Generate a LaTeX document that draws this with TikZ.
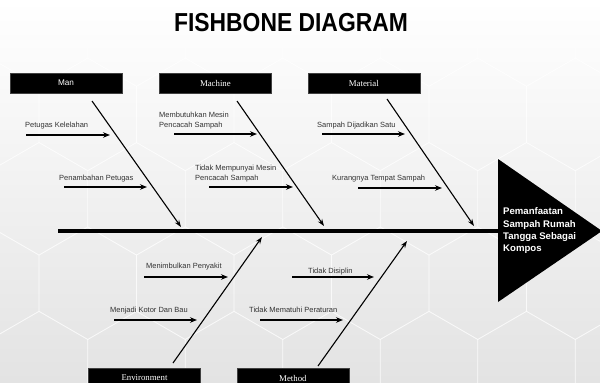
\documentclass[tikz,border=0pt]{standalone}
\usepackage{fontspec}
\setmainfont{Liberation Serif}
\setsansfont{Liberation Sans}
\newfontfamily\titlefont[FakeStretch=0.88]{Liberation Sans}
\usetikzlibrary{arrows.meta, positioning}

\begin{document}
\begin{tikzpicture}[
  x=1pt, y=-1pt,
  category/.style={fill=black, draw=black!75, text=white, minimum width=112pt, minimum height=20pt, inner sep=0pt, font=\fontsize{8.8}{10}\selectfont},
  cause/.style={anchor=north west, inner sep=0pt, align=left, text=black!80, font=\sffamily\fontsize{7.5}{10}\selectfont},
  bone/.style={line width=1.1pt, -{Stealth[length=7pt, width=5pt]}},
  causearrow/.style={line width=1.4pt, -{Stealth[length=7pt, width=5.5pt]}},
  hexline/.style={white, line width=0.8pt, opacity=0.5}
]
\useasboundingbox (0,0) rectangle (600,383);

% Background with hexagon pattern
\shade[top color=white, bottom color=black!11] (0,0) rectangle (600,383);
\begin{scope}
  \clip (0,45) rectangle (600,383);
  \foreach \j in {0,...,5}{
    \foreach \i in {-1,...,6}{
      \pgfmathsetmacro\cx{\i*97.5+mod(\j,2)*48.75+39}
      \pgfmathsetmacro\cy{\j*84.4+30}
      \draw[hexline] (\cx,\cy) +(30:56.3) -- +(90:56.3) -- +(150:56.3) -- +(210:56.3) -- +(270:56.3) -- +(330:56.3) -- cycle;
    }
  }
\end{scope}

% Title
\node[font=\titlefont\bfseries\fontsize{26}{28}\selectfont, inner sep=0pt] (title) at (291,22.5) {FISHBONE DIAGRAM};

% Spine and head
\coordinate (tail) at (58,231);
\coordinate (spineend) at (500,231);
\coordinate (headtop) at (498,159);
\coordinate (headbot) at (498,302);
\coordinate (headtip) at (602,231);
\draw[line width=3.5pt] (tail) -- (spineend);
\fill[black] (headtop) -- (headtip) -- (headbot) -- cycle;
\node[anchor=north west, inner sep=0pt, align=left, text=white, font=\sffamily\bfseries\fontsize{9.6}{12.4}\selectfont] (effect) at (503,207.5) {Pemanfaatan\\Sampah Rumah\\Tangga Sebagai\\Kompos};

% Category boxes
\node[category, font=\sffamily\fontsize{8.2}{10}\selectfont] (man) at (66,83) {Man};
\node[category, right=37pt of man] (machine) {Machine};
\node[category, right=36pt of machine] (material) {Material};
\node[category] (environment) at (144.5,378) {Environment};
\node[category, right=36pt of environment] (method) {Method};

% Bones
\coordinate (manbone) at (92,101);
\coordinate (manhit) at (181,227);
\coordinate (machinebone) at (237,101);
\coordinate (machinehit) at (324,226);
\coordinate (materialbone) at (387,99);
\coordinate (materialhit) at (474,226);
\coordinate (envbone) at (173,363);
\coordinate (envhit) at (262,237);
\coordinate (methodbone) at (318,366);
\coordinate (methodhit) at (407,241);
\draw[bone] (manbone) -- (manhit);
\draw[bone] (machinebone) -- (machinehit);
\draw[bone] (materialbone) -- (materialhit);
\draw[bone] (envbone) -- (envhit);
\draw[bone] (methodbone) -- (methodhit);

% Causes: Man
\node[cause] (kelelahan) at (25,121.5) {Petugas Kelelahan};
\node[cause] (penambahan) at (59,174.5) {Penambahan Petugas};
\coordinate (kelelahan-s) at (26,135);
\coordinate (kelelahan-e) at (110,135);
\coordinate (penambahan-s) at (64,187);
\coordinate (penambahan-e) at (147,187);
\draw[causearrow] (kelelahan-s) -- (kelelahan-e);
\draw[causearrow] (penambahan-s) -- (penambahan-e);

% Causes: Machine
\node[cause] (butuhmesin) at (159,111.5) {Membutuhkan Mesin\\Pencacah Sampah};
\node[cause] (tanpamesin) at (195,164.5) {Tidak Mempunyai Mesin\\Pencacah Sampah};
\coordinate (butuhmesin-s) at (174,134);
\coordinate (butuhmesin-e) at (257,134);
\coordinate (tanpamesin-s) at (209,187);
\coordinate (tanpamesin-e) at (293,187);
\draw[causearrow] (butuhmesin-s) -- (butuhmesin-e);
\draw[causearrow] (tanpamesin-s) -- (tanpamesin-e);

% Causes: Material
\node[cause] (dijadikan) at (317,121.5) {Sampah Dijadikan Satu};
\node[cause] (kurangtempat) at (332,174.5) {Kurangnya Tempat Sampah};
\coordinate (dijadikan-s) at (322,134);
\coordinate (dijadikan-e) at (405,134);
\coordinate (kurangtempat-s) at (358,188);
\coordinate (kurangtempat-e) at (442,188);
\draw[causearrow] (dijadikan-s) -- (dijadikan-e);
\draw[causearrow] (kurangtempat-s) -- (kurangtempat-e);

% Causes: Environment
\node[cause] (penyakit) at (146,262.5) {Menimbulkan Penyakit};
\node[cause] (kotor) at (110,306.5) {Menjadi Kotor Dan Bau};
\coordinate (penyakit-s) at (144,277);
\coordinate (penyakit-e) at (228,277);
\coordinate (kotor-s) at (114,320);
\coordinate (kotor-e) at (197,320);
\draw[causearrow] (penyakit-s) -- (penyakit-e);
\draw[causearrow] (kotor-s) -- (kotor-e);

% Causes: Method
\node[cause] (disiplin) at (308,267.5) {Tidak Disiplin};
\node[cause] (peraturan) at (249,306.5) {Tidak Mematuhi Peraturan};
\coordinate (disiplin-s) at (292,277);
\coordinate (disiplin-e) at (374,277);
\coordinate (peraturan-s) at (260,320);
\coordinate (peraturan-e) at (343,320);
\draw[causearrow] (disiplin-s) -- (disiplin-e);
\draw[causearrow] (peraturan-s) -- (peraturan-e);

\end{tikzpicture}
\end{document}
